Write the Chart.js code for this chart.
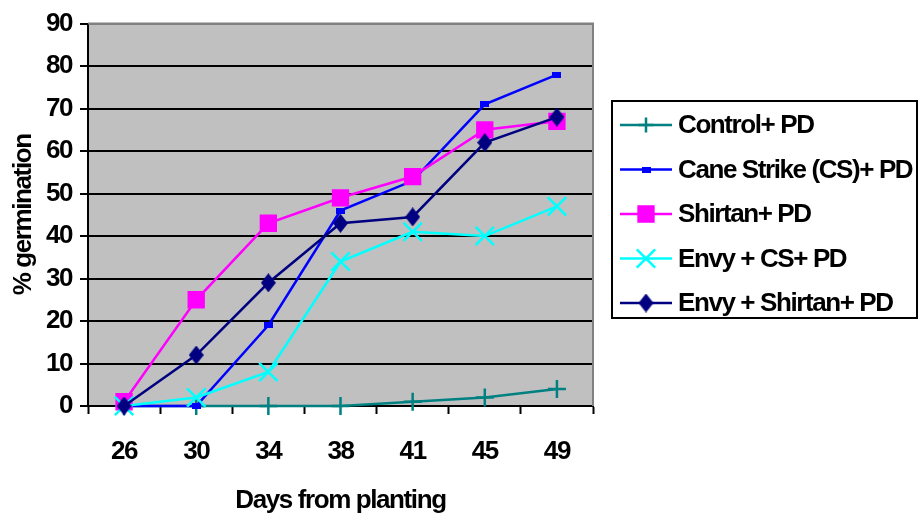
<!DOCTYPE html>
<html>
<head>
<meta charset="utf-8">
<script src="https://cdn.jsdelivr.net/npm/chart.js@4.4.1/dist/chart.umd.min.js"></script>
<style>
  html, body { margin: 0; padding: 0; background: #ffffff; }
  #wrap { width: 919px; height: 516px; position: relative; }
</style>
</head>
<body>
<div id="wrap"><canvas id="germChart"></canvas></div>
<script>
// Days after planting and % germination per treatment
const days = ['26', '30', '34', '38', '41', '45', '49'];
const control = [0, 0, 0, 0, 1, 2, 4];
const caneStrike = [0, 0, 19, 46, 53, 71, 78];
const shirtan = [1, 25, 43, 49, 54, 65, 67];
const envyCs = [0, 2, 8, 34, 41, 40, 47];
const envyShirtan = [0, 12, 29, 43, 44.5, 62, 68];
const seriesNames = ['Control+ PD', 'Cane Strike (CS)+ PD', 'Shirtan+ PD', 'Envy + CS+ PD', 'Envy + Shirtan+ PD'];
const yMin = 0, yMax = 90, yStep = 10;

const FONT = { family: '"Liberation Sans", Arial, sans-serif', size: 26, weight: 'bold' };
const SPACING = '-1.4px';

// small flat rectangle marker
function makeRect(w, h, color) {
    const c = document.createElement('canvas');
    c.width = w; c.height = h;
    const g = c.getContext('2d');
    g.fillStyle = color;
    g.fillRect(0, 0, w, h);
    return c;
}

// tall diamond marker
function makeDiamond(w, h, color) {
    const c = document.createElement('canvas');
    c.width = w; c.height = h;
    const g = c.getContext('2d');
    g.fillStyle = color;
    g.beginPath();
    g.moveTo(w / 2, 0);
    g.lineTo(w, h / 2);
    g.lineTo(w / 2, h);
    g.lineTo(0, h / 2);
    g.closePath();
    g.fill();
    return c;
}

const smallRect = makeRect(9, 6, '#0000ff');
const diamond = makeDiamond(15, 19, '#000080');

function series(label, data, color, style, radius, order) {
    return {
        label: label,
        data: data,
        borderColor: color,
        backgroundColor: color,
        pointBorderColor: color,
        pointBackgroundColor: color,
        borderWidth: 2.5,
        pointBorderWidth: 2.5,
        pointStyle: style,
        pointRadius: radius,
        pointHoverRadius: radius,
        tension: 0,
        fill: false,
        clip: false,
        order: order
    };
}

const datasets = [
    series(seriesNames[0], control, '#008080', 'cross', 9, 5),
    series(seriesNames[1], caneStrike, '#0000ff', smallRect, 4, 4),
    series(seriesNames[2], shirtan, '#ff00ff', 'rect', 10.5, 3),
    series(seriesNames[3], envyCs, '#00ffff', 'crossRot', 13, 2),
    series(seriesNames[4], envyShirtan, '#000080', diamond, 9, 1)
];

// tight text like the original office fonts
const tightText = {
    id: 'tightText',
    beforeUpdate(chart) { chart.ctx.letterSpacing = SPACING; },
    beforeDraw(chart) { chart.ctx.letterSpacing = SPACING; }
};

// grey plot area with a grey frame on top/right
const plotArea = {
    id: 'plotArea',
    beforeDraw(chart) {
        const { ctx, chartArea: a } = chart;
        ctx.save();
        ctx.fillStyle = '#c0c0c0';
        ctx.fillRect(a.left, a.top, a.right - a.left, a.bottom - a.top);
        ctx.restore();
    },
    beforeDatasetsDraw(chart) {
        const { ctx, chartArea: a } = chart;
        ctx.save();
        ctx.strokeStyle = '#808080';
        ctx.lineWidth = 2;
        ctx.beginPath();
        ctx.moveTo(a.left, a.top);
        ctx.lineTo(a.right, a.top);
        ctx.lineTo(a.right, a.bottom);
        ctx.stroke();
        ctx.restore();
    }
};

// boxed legend on the right with line + marker samples
const boxLegend = {
    id: 'boxLegend',
    afterDraw(chart) {
        const ctx = chart.ctx;
        const box = { x: 612, y: 101, w: 305, h: 217 };
        ctx.save();
        ctx.letterSpacing = SPACING;
        ctx.strokeStyle = '#000000';
        ctx.lineWidth = 2;
        ctx.strokeRect(box.x, box.y, box.w, box.h);
        ctx.font = `${FONT.weight} ${FONT.size}px ${FONT.family}`;
        ctx.textBaseline = 'middle';
        ctx.textAlign = 'left';
        chart.data.datasets.forEach((ds, i) => {
            const y = 125 + i * 44.5;
            ctx.strokeStyle = ds.borderColor;
            ctx.lineWidth = 2.5;
            ctx.beginPath();
            ctx.moveTo(620, y);
            ctx.lineTo(672, y);
            ctx.stroke();
            ctx.fillStyle = ds.pointBackgroundColor;
            ctx.strokeStyle = ds.pointBorderColor;
            Chart.helpers.drawPoint(ctx, {
                pointStyle: ds.pointStyle,
                radius: ds.pointStyle === 'cross' ? 7.5 : ds.pointRadius,
                rotation: 0,
                borderWidth: ds.pointBorderWidth
            }, 646, y);
            ctx.fillStyle = '#000000';
            ctx.fillText(ds.label, 678, y + 1);
        });
        ctx.restore();
    }
};

new Chart(document.getElementById('germChart').getContext('2d'), {
    type: 'line',
    data: { labels: days, datasets: datasets },
    plugins: [tightText, plotArea, boxLegend],
    options: {
        responsive: true,
        maintainAspectRatio: false,
        animation: false,
        layout: { padding: { top: 22, right: 326, bottom: 0, left: 0 } },
        plugins: {
            legend: { display: false },
            tooltip: { enabled: false }
        },
        scales: {
            x: {
                type: 'category',
                offset: true,
                afterFit(scale) { scale.height = 110; },
                grid: {
                    offset: true,
                    drawOnChartArea: false,
                    drawTicks: true,
                    tickLength: 8,
                    tickColor: '#000000',
                    tickWidth: 2
                },
                border: { color: '#000000', width: 2 },
                ticks: { color: '#000000', font: FONT, padding: 22, maxRotation: 0 },
                title: {
                    display: true,
                    text: 'Days from planting',
                    color: '#000000',
                    font: FONT,
                    padding: { top: 0, bottom: 0 }
                }
            },
            y: {
                min: yMin,
                max: yMax,
                afterFit(scale) { scale.width = 88; },
                ticks: { stepSize: yStep, color: '#000000', font: FONT, padding: 8 },
                grid: {
                    color: (c) => (c.tick && c.tick.value === yMax ? '#808080' : '#000000'),
                    lineWidth: 2,
                    drawTicks: true,
                    tickLength: 8,
                    tickColor: '#000000',
                    tickWidth: 2
                },
                border: { color: '#000000', width: 2 },
                title: {
                    display: true,
                    text: '% germination',
                    color: '#000000',
                    font: FONT,
                    padding: { top: 8, bottom: 0 }
                }
            }
        }
    }
});
</script>
</body>
</html>
